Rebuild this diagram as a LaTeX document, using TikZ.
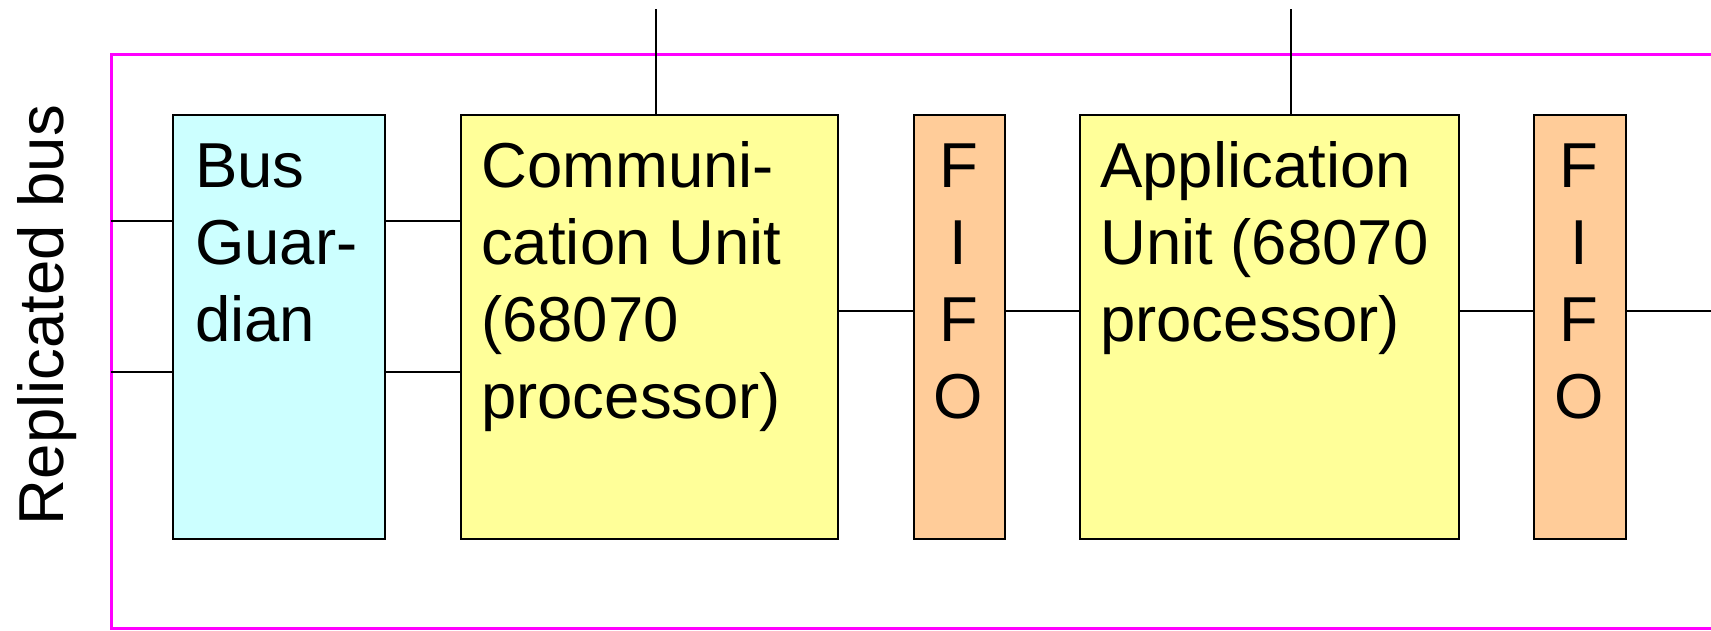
\documentclass[tikz,border=0pt]{standalone}
\usepackage{fontspec}
\setmainfont{Liberation Sans}
\definecolor{guardfill}{HTML}{CCFFFF}
\definecolor{unitfill}{HTML}{FFFF99}
\definecolor{fifofill}{HTML}{FFCC99}
\definecolor{framepink}{HTML}{FF00FF}
\begin{document}
\begin{tikzpicture}[x=1pt,y=-1pt,
  block/.style={draw=black, line width=2.4pt, inner sep=0pt, anchor=north west, minimum height=424pt},
  boxtext/.style={inner sep=0pt, anchor=base west, font=\fontsize{63.5}{77}\selectfont},
  fifotext/.style={inner sep=0pt, anchor=base, font=\fontsize{63.5}{77}\selectfont},
  wire/.style={draw=black, line width=2.4pt},
  frame/.style={draw=framepink, line width=3pt}]
\useasboundingbox (0,0) rectangle (1711,630);
\clip (0,0) rectangle (1711,630);

% node enclosure, open to the right
\draw[frame] (111,54) rectangle (1780,628);

% side label
\node[rotate=90, anchor=base, inner sep=0pt, font=\fontsize{63.5}{77}\selectfont] (buslabel) at (63,315) {Replicated bus};

% blocks
\node[block, fill=guardfill, minimum width=212pt] (guard) at (172,114) {};
\node[block, fill=unitfill, minimum width=377.5pt] (comm) at (459.5,114) {};
\node[block, fill=fifofill, minimum width=91pt] (fifoA) at (913,114) {};
\node[block, fill=unitfill, minimum width=379pt] (app) at (1079,114) {};
\node[block, fill=fifofill, minimum width=92pt] (fifoB) at (1533,114) {};

% block captions
\node[boxtext] (guardtxt) at (195,187) {\parbox[t]{200pt}{Bus\\Guar-\\dian}};
\node[boxtext] (commtxt) at (481,187) {\parbox[t]{350pt}{Communi-\\cation Unit\\(68070\\processor)}};
\node[fifotext] (fifoAtxt) at (958.5,187) {\parbox[t]{80pt}{\centering F\\I\\F\\O}};
\node[boxtext] (apptxt) at (1100,187) {\parbox[t]{350pt}{Application\\Unit (68070\\processor)}};
\node[fifotext] (fifoBtxt) at (1579,187) {\parbox[t]{80pt}{\centering F\\I\\F\\O}};

% bus and link end points
\coordinate (busA) at (111,221);
\coordinate (busB) at (111,372);
\coordinate (linkend) at (1711,311);
\coordinate (hostA) at (656,9);
\coordinate (hostB) at (1291,9);

% replicated bus lines through the guardian
\draw[wire] (busA) -- (guard.west |- busA);
\draw[wire] (busB) -- (guard.west |- busB);
\draw[wire] (guard.east |- busA) -- (comm.west |- busA);
\draw[wire] (guard.east |- busB) -- (comm.west |- busB);

% data path through the FIFOs
\draw[wire] (comm.east |- linkend) -- (fifoA.west |- linkend);
\draw[wire] (fifoA.east |- linkend) -- (app.west |- linkend);
\draw[wire] (app.east |- linkend) -- (fifoB.west |- linkend);
\draw[wire] (fifoB.east |- linkend) -- (linkend);

% upward connections
\draw[wire] (hostA) -- (hostA |- comm.north);
\draw[wire] (hostB) -- (hostB |- app.north);
\end{tikzpicture}
\end{document}
